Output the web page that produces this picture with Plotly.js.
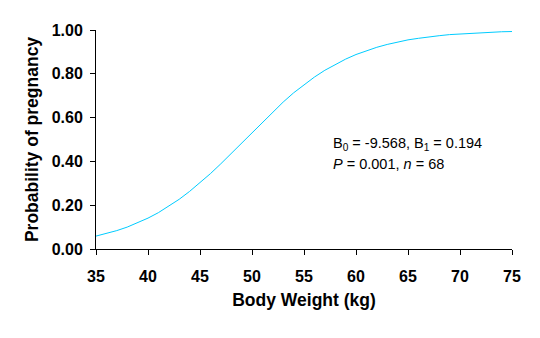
<!DOCTYPE html>
<html>
<head>
<meta charset="utf-8">
<script src="https://cdn.plot.ly/plotly-3.0.1.min.js"></script>
<style>html,body{margin:0;padding:0;background:#fff;}#chart{width:540px;height:338px;}</style>
</head>
<body>
<div id="chart"></div>
<script>
// Body weight (kg) and fitted probability of pregnancy
var weightKg = [35,36,37,38,39,40,41,42,43,44,45,46,47,48,49,50,51,52,53,54,55,56,57,58,59,60,61,62,63,64,65,66,67,68,69,70,71,72,73,74,75];
var probPregnancy = [0.059,0.070,0.084,0.100,0.119,0.141,0.166,0.195,0.227,0.263,0.302,0.344,0.389,0.436,0.485,0.533,0.581,0.627,0.671,0.713,0.751,0.785,0.816,0.843,0.867,0.888,0.906,0.921,0.934,0.945,0.955,0.962,0.969,0.974,0.979,0.982,0.985,0.988,0.990,0.992,0.993];
var yTickVals = [0, 0.2, 0.4, 0.6, 0.8, 1.0];
var yTickText = ["0.00","0.20","0.40","0.60","0.80","1.00"];
var xTickVals = [35,40,45,50,55,60,65,70,75];
var statLine1 = "B<sub>0</sub> = -9.568, B<sub>1</sub> = 0.194";
var statLine2 = "<i>P</i> = 0.001, <i>n</i> = 68";

var fontFam = "Liberation Sans, Arial, sans-serif";
var trace = {
  x: weightKg, y: probPregnancy, type: "scatter", mode: "lines",
  line: {color: "#00CCFF", width: 1}, hoverinfo: "none"
};
var layout = {
  width: 540, height: 338,
  margin: {l: 96, r: 28, t: 30, b: 89},
  paper_bgcolor: "#ffffff", plot_bgcolor: "#ffffff",
  showlegend: false,
  font: {family: fontFam, color: "#000"},
  xaxis: {
    range: [35, 75], tickvals: xTickVals, ticks: "outside", ticklen: 5, tickwidth: 1, tickcolor: "#000",
    showline: true, linecolor: "#000", linewidth: 1, showgrid: false, zeroline: false,
    tickfont: {family: fontFam, size: 16, weight: "bold"}, ticklabelstandoff: 8,
    title: {text: "Body Weight (kg)", font: {family: fontFam, size: 17.5, weight: "bold"}, standoff: 9}
  },
  yaxis: {
    range: [0, 1], tickvals: yTickVals, ticktext: yTickText, ticks: "outside", ticklen: 5, tickwidth: 1, tickcolor: "#000",
    showline: true, linecolor: "#000", linewidth: 1, showgrid: false, zeroline: false,
    tickfont: {family: fontFam, size: 16, weight: "bold"}, ticklabelstandoff: 4,
    title: {text: "Probability of pregnancy", font: {family: fontFam, size: 17.5, weight: "bold"}, standoff: 8}
  },
  annotations: [
    {x: 57.6, y: 0.48, xref: "x", yref: "y", xanchor: "left", yanchor: "middle", showarrow: false,
     text: statLine1, font: {family: fontFam, size: 14.5, color: "#000"}},
    {x: 57.6, y: 0.39, xref: "x", yref: "y", xanchor: "left", yanchor: "middle", showarrow: false,
     text: statLine2, font: {family: fontFam, size: 14.5, color: "#000"}}
  ]
};
Plotly.newPlot("chart", [trace], layout, {staticPlot: true, displayModeBar: false});
</script>
</body>
</html>
